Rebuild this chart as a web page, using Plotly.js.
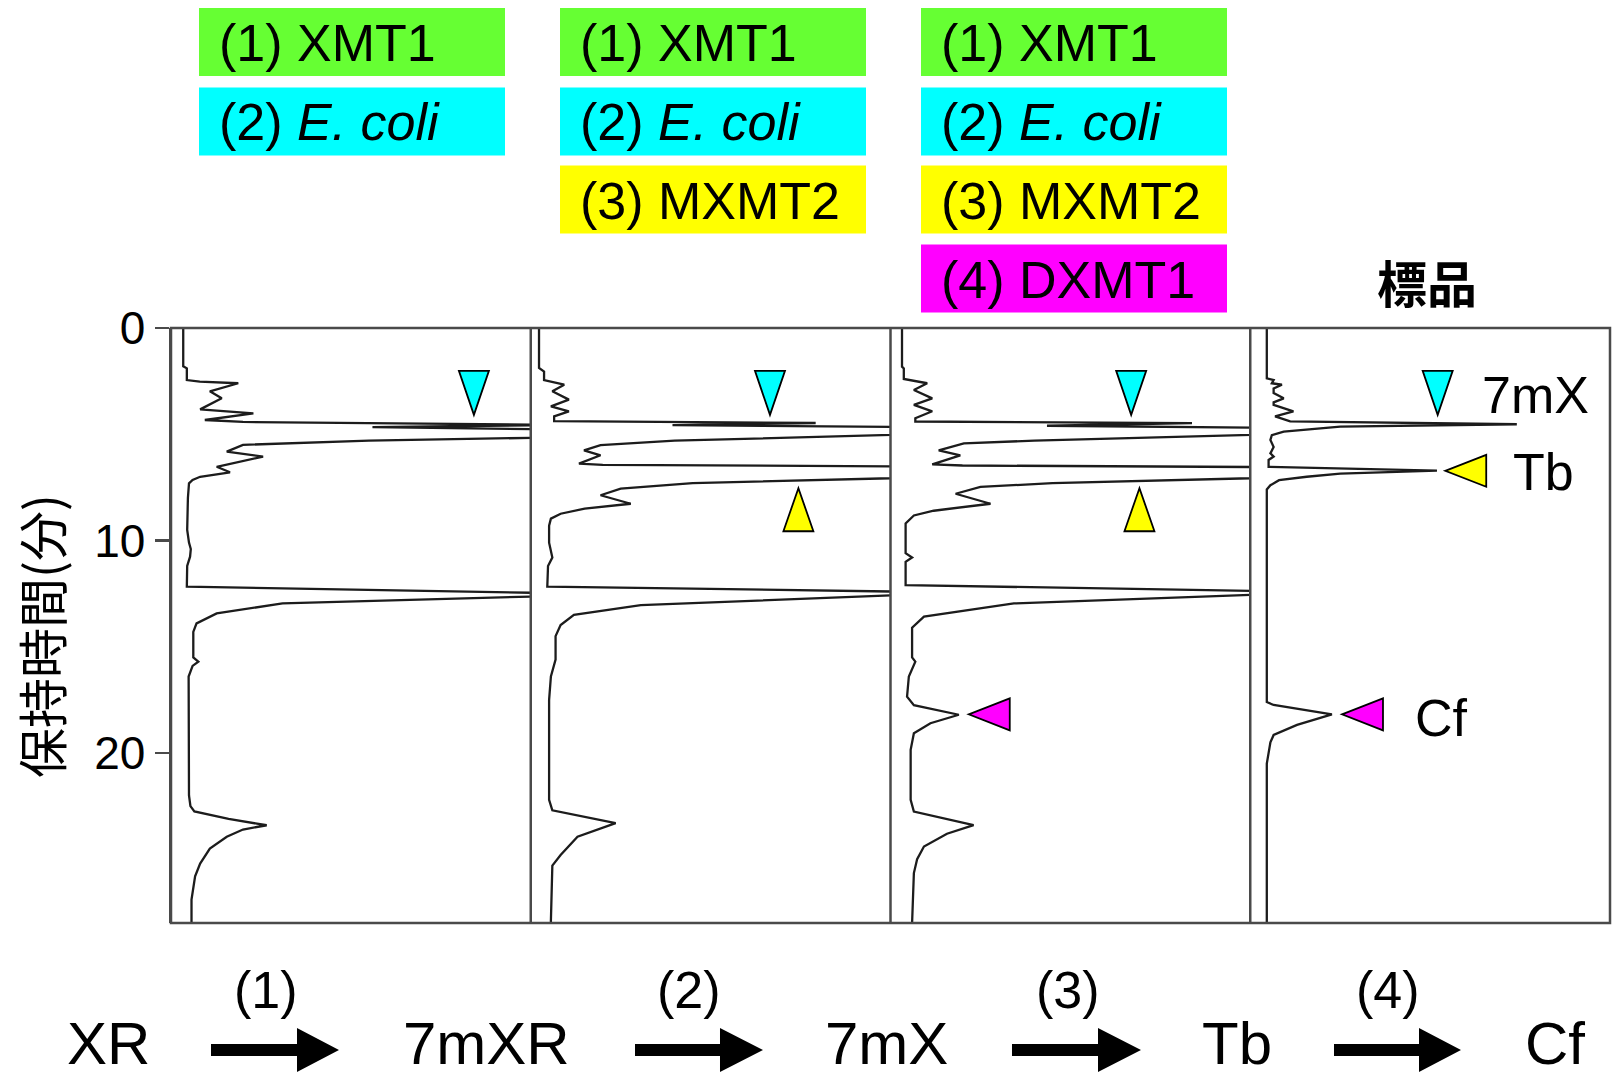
<!DOCTYPE html>
<html><head><meta charset="utf-8">
<script src="https://cdn.plot.ly/plotly-3.0.1.min.js"></script>
<style>html,body{margin:0;padding:0;background:#fff}#chart{width:1612px;height:1077px}</style>
</head><body><div id="chart"></div>
<script>
// ---------- data (retention time in min, detector signal in % of panel width) ----------
const time1 = [0, 1.8, 1.9, 2.45, 2.52, 2.6, 2.98, 3.31, 3.83, 4.02, 4.33, 4.42, 4.56, 4.66, 4.78, 5.0, 5.17, 5.3, 5.5, 5.82, 6.05, 6.53, 6.79, 7.0, 7.15, 7.31, 8.0, 9.5, 10.1, 10.4, 10.76, 11.2, 12.17, 12.45, 12.55, 12.64, 12.96, 13.43, 13.9, 14.3, 15.5, 15.7, 15.9, 16.4, 17.5, 20, 22.0, 22.5, 22.75, 23.1, 23.4, 23.6, 23.94, 24.5, 25.2, 25.8, 26.9, 28.0];
const signal1 = [3.4, 3.4, 4.4, 4.4, 8, 18.7, 10.8, 14.1, 8.1, 22.9, 9.4, 20, 110, 56, 110, 140, 100, 55, 20, 15.5, 25.6, 12.7, 16.4, 8.1, 6, 5.0, 4.7, 4.5, 5.0, 5.5, 5.3, 4.5, 4.4, 100, 130, 100, 31, 12.7, 7.1, 6.2, 6.2, 7.6, 6.0, 4.9, 4.9, 4.9, 5.0, 5.4, 6.5, 16, 26.6, 20, 15.5, 10.8, 8.1, 6.7, 5.7, 5.7];

const time2 = [0, 1.88, 2.05, 2.45, 2.67, 2.98, 3.37, 3.69, 3.92, 4.16, 4.38, 4.47, 4.57, 4.67, 4.9, 5.04, 5.3, 5.51, 5.76, 5.99, 6.2, 6.38, 6.44, 6.52, 6.8, 7.07, 7.3, 7.56, 7.87, 8.1, 8.27, 8.5, 8.74, 8.97, 9.3, 10.1, 10.8, 11.2, 12.17, 12.4, 12.5, 12.58, 13.04, 13.5, 13.98, 14.5, 15.6, 16.4, 17.5, 22.2, 22.7, 23.3, 23.94, 24.8, 25.3, 27.9, 28];
const signal2 = [2.3, 2.3, 3.7, 3.7, 9.3, 6.0, 10.6, 5.6, 10.6, 6.5, 6.5, 79.2, 39.4, 110, 130, 100, 40, 19.4, 14.8, 19.4, 16, 13.4, 20, 110, 130, 100, 45, 25, 19.4, 24, 27.8, 15, 8.3, 5.6, 5.1, 5.1, 6.0, 4.8, 4.6, 100, 130, 100, 30.6, 12, 8.3, 6.9, 6.9, 5.6, 5.1, 5.1, 6.0, 23.6, 13.0, 8.3, 6.0, 5.6, 5.6];

const time3 = [0, 1.82, 1.9, 2.4, 2.6, 2.92, 3.31, 3.62, 3.92, 4.25, 4.4, 4.48, 4.6, 4.7, 4.9, 5.04, 5.3, 5.43, 5.76, 5.99, 6.25, 6.42, 6.47, 6.55, 6.8, 7.07, 7.3, 7.48, 7.8, 8.27, 8.6, 8.82, 9.2, 10.6, 10.8, 11.0, 12.1, 12.35, 12.45, 12.56, 12.96, 13.58, 14.1, 15.5, 15.7, 16.4, 17.35, 17.75, 18.2, 18.6, 19.07, 19.85, 22.2, 22.76, 23.39, 23.8, 24.4, 25.0, 25.65, 28];
const signal3 = [3.2, 3.2, 3.7, 3.7, 10.2, 6.5, 11.6, 6.5, 11.6, 6.9, 6.9, 83.8, 43.5, 110, 130, 100, 40, 20.4, 13.4, 19.4, 15, 11.6, 20, 110, 130, 100, 45, 25, 18.1, 27.8, 12, 6.5, 4.2, 4.2, 6.0, 4.2, 4.2, 100, 130, 100, 34.3, 9.3, 6.0, 6.0, 6.9, 5.1, 4.6, 6.5, 19.0, 11.1, 6.5, 5.6, 5.6, 6.5, 23.1, 15.7, 9.3, 7.4, 6.5, 6.0];

const time4 = [0, 2.37, 2.45, 2.6, 2.67, 2.85, 3.06, 3.31, 3.5, 3.62, 3.92, 4.16, 4.39, 4.53, 4.64, 4.88, 5.04, 5.27, 5.6, 5.9, 6.05, 6.21, 6.53, 6.71, 6.85, 7.0, 7.16, 7.4, 7.6, 17.6, 17.74, 18.18, 18.68, 19.15, 19.5, 20.5, 28];
const signal4 = [4.6, 4.6, 6.5, 6.0, 8.8, 6.5, 6.5, 9.3, 6.5, 6.5, 12.0, 6.9, 11.1, 74.1, 25, 9.3, 6.0, 5.6, 6.5, 5.6, 6.5, 5.1, 5.1, 51.9, 25, 15.7, 8, 5.6, 4.6, 4.6, 6.5, 22.7, 13.0, 6.5, 5.6, 4.6, 4.6];

const yTicks = [0, 10, 20];
const yTitle = '保持時間(分)';
const enzymeLabels = ['(1) XMT1', '(2) <i>E. coli</i>', '(3) MXMT2', '(4) DXMT1'];
const enzymeColors = ['#66ff33', '#00ffff', '#ffff00', '#ff00ff'];
const panelEnzymeCount = [2, 3, 4, 0];
const standardLabel = '標品';
const compounds = ['XR', '7mXR', '7mX', 'Tb', 'Cf'];
const steps = ['(1)', '(2)', '(3)', '(4)'];
// peak markers: [panel, signal, time, kind]
const markerPanel = [1, 2, 3, 4, 2, 3, 4, 3, 4];
const markerSignal = [84.2, 66.5, 66.9, 52.1, 74.4, 69.2, 54.2, 21.75, 25.5];
const markerTime = [4.09, 4.09, 4.09, 4.09, 7.54, 7.54, 6.72, 18.18, 18.18];
const markerKind = ['down', 'down', 'down', 'down', 'up', 'up', 'left', 'left', 'left'];
const markerColor = ['#00ffff', '#00ffff', '#00ffff', '#00ffff', '#ffff00', '#ffff00', '#ffff00', '#ff00ff', '#ff00ff'];
const peakNames = ['7mX', 'Tb', 'Cf'];
const peakNameSignal = [79.2, 81.4, 53.2];
const peakNameTime = [3.15, 6.78, 18.33];

// ---------- layout helpers ----------
const L = 171, R = 1610, T = 328, B = 923;
const px = x => (x - L) / (R - L);
const py = y => (B - y) / (B - T);
const FONT = 'Arial, "Liberation Sans", Helvetica, sans-serif';
const CJK = '"Noto Sans CJK JP", "Noto Sans CJK SC", sans-serif';
const frameColor = '#4a4a4a';

const times = [time1, time2, time3, time4];
const signals = [signal1, signal2, signal3, signal4];
const traces = times.map((t, i) => ({
  type: 'scatter', mode: 'lines', x: signals[i], y: t,
  xaxis: i === 0 ? 'x' : 'x' + (i + 1), yaxis: 'y',
  line: {color: '#1c1c1c', width: 2.3}, hoverinfo: 'skip', showlegend: false
}));

const shapes = [];
const annotations = [];
// frame
shapes.push({type: 'rect', xref: 'paper', yref: 'paper', x0: 0, x1: 1, y0: 0, y1: 1, line: {color: frameColor, width: 2.5}});
[0.25, 0.5, 0.75].forEach(d => shapes.push({type: 'line', xref: 'paper', yref: 'paper', x0: d, x1: d, y0: 0, y1: 1, line: {color: frameColor, width: 2.5}}));

// enzyme boxes
const colX = [199, 560, 921];
const rowY = [8, 87.5, 165.5, 244.5];
const boxW = 306, boxH = 68;
panelEnzymeCount.forEach((n, c) => {
  for (let r = 0; r < n; r++) {
    shapes.push({type: 'rect', xref: 'paper', yref: 'paper', layer: 'below',
      x0: px(colX[c]), x1: px(colX[c] + boxW), y0: py(rowY[r] + boxH), y1: py(rowY[r]),
      fillcolor: enzymeColors[r], line: {width: 0}});
    annotations.push({xref: 'paper', yref: 'paper', x: px(colX[c] + 18), y: py(rowY[r] + boxH / 2 + 1),
      xanchor: 'left', yanchor: 'middle', text: enzymeLabels[r], showarrow: false,
      font: {family: FONT, size: 52, color: '#000'}});
  }
});
annotations.push({xref: 'paper', yref: 'paper', x: px(1427), y: py(281), xanchor: 'center', yanchor: 'middle',
  text: '<b>' + standardLabel + '</b>', showarrow: false, font: {family: CJK, size: 50, color: '#000'}});

// y-axis title
annotations.push({xref: 'paper', yref: 'paper', x: px(40), y: py(636), xanchor: 'center', yanchor: 'middle',
  text: yTitle, textangle: -90, showarrow: false, font: {family: CJK, size: 50, color: '#000'}});

// peak markers (pixel-sized triangles anchored at data positions)
const triPath = {
  down: 'M0,0 L-15,44 L15,44 Z',
  up: 'M0,0 L-15,-43 L15,-43 Z',
  left: 'M0,0 L41,16 L41,-16 Z'
};
markerPanel.forEach((p, i) => {
  shapes.push({type: 'path', xref: p === 1 ? 'x' : 'x' + p, yref: 'y',
    xsizemode: 'pixel', ysizemode: 'pixel', xanchor: markerSignal[i], yanchor: markerTime[i],
    path: triPath[markerKind[i]], fillcolor: markerColor[i], line: {color: '#000', width: 1.8}});
});
peakNames.forEach((n, i) => annotations.push({xref: 'x4', yref: 'y', x: peakNameSignal[i], y: peakNameTime[i],
  xanchor: 'center', yanchor: 'middle', text: n, showarrow: false, font: {family: FONT, size: 52, color: '#000'}}));

// reaction scheme at the bottom
const compX = [108, 486, 886, 1237, 1555];
compounds.forEach((c, i) => annotations.push({xref: 'paper', yref: 'paper', x: px(compX[i]), y: py(1043),
  xanchor: 'center', yanchor: 'middle', text: c, showarrow: false, font: {family: FONT, size: 60, color: '#000'}}));
const stepX = [266, 689, 1068, 1388];
steps.forEach((s, i) => annotations.push({xref: 'paper', yref: 'paper', x: px(stepX[i]), y: py(990),
  xanchor: 'center', yanchor: 'middle', text: s, showarrow: false, font: {family: FONT, size: 52, color: '#000'}}));
const arrowX = [[211, 297, 339], [635, 720, 763], [1012, 1098, 1141], [1334, 1419, 1461]];
arrowX.forEach(a => {
  const [x0, xh, x1] = a;
  const p = (x, y) => px(x).toFixed(5) + ',' + py(y).toFixed(5);
  shapes.push({type: 'path', xref: 'paper', yref: 'paper', fillcolor: '#000', line: {width: 0},
    path: 'M' + p(x0, 1044) + ' L' + p(xh, 1044) + ' L' + p(xh, 1028) + ' L' + p(x1, 1050) + ' L' + p(xh, 1072) +
          ' L' + p(xh, 1056) + ' L' + p(x0, 1056) + ' Z'});
});

const xa = d => ({domain: d, range: [0, 100], visible: false, fixedrange: true, anchor: 'y'});
const layout = {
  width: 1612, height: 1077,
  margin: {l: L, r: 1612 - R, t: T, b: 1077 - B, pad: 0},
  paper_bgcolor: '#fff', plot_bgcolor: '#fff',
  showlegend: false,
  xaxis: xa([0, 0.25]), xaxis2: xa([0.25, 0.5]), xaxis3: xa([0.5, 0.75]), xaxis4: xa([0.75, 1]),
  yaxis: {range: [28, 0], domain: [0, 1], anchor: 'x', showline: true, linecolor: frameColor, linewidth: 2.5,
    ticks: 'outside', ticklen: 14, tickwidth: 2.5, tickcolor: frameColor, tickvals: yTicks,
    ticktext: yTicks.map(String), tickfont: {family: FONT, size: 46, color: '#000'}, ticklabelstandoff: 0,
    showgrid: false, zeroline: false, fixedrange: true},
  shapes: shapes, annotations: annotations
};
Plotly.newPlot('chart', traces, layout, {displayModeBar: false, staticPlot: true});
</script>
</body></html>
